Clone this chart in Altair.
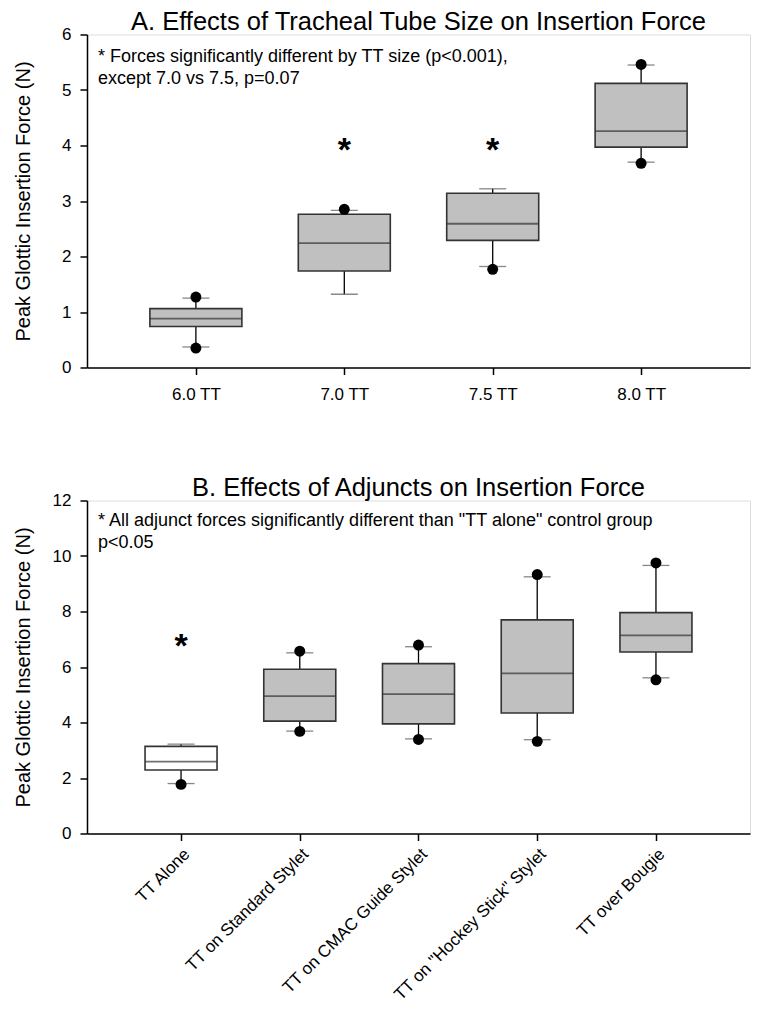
import json
import altair as alt
import pandas as pd

FONT = "Liberation Sans"

# ---------------- Panel A data ----------------
a_cats = ["6.0 TT", "7.0 TT", "7.5 TT", "8.0 TT"]
a_whisk_lo = [0.37, 1.32, 1.82, 3.70]
a_q1 = [0.74, 1.74, 2.29, 3.97]
a_med = [0.88, 2.24, 2.59, 4.26]
a_q3 = [1.06, 2.76, 3.14, 5.12]
a_whisk_hi = [1.25, 2.83, 3.22, 5.45]
a_out_lo = [0.35, None, 1.77, 3.68]
a_out_hi = [1.27, 2.85, None, 5.46]
a_star = [None, 3.98, 3.98, None]
a_note = ["* Forces significantly different by TT size (p<0.001),",
          "except 7.0 vs 7.5, p=0.07"]

# ---------------- Panel B data ----------------
b_cats = ["TT Alone", "TT on Standard Stylet", "TT on CMAC Guide Stylet",
          'TT on "Hockey Stick" Stylet', "TT over Bougie"]
b_whisk_lo = [1.80, 3.69, 3.41, 3.38, 5.61]
b_q1 = [2.29, 4.05, 3.95, 4.34, 6.54]
b_med = [2.59, 4.95, 5.02, 5.77, 7.14]
b_q3 = [3.14, 5.92, 6.12, 7.70, 7.96]
b_whisk_hi = [3.22, 6.51, 6.73, 9.25, 9.66]
b_out_lo = [1.77, 3.68, 3.39, 3.32, 5.54]
b_out_hi = [None, 6.57, 6.79, 9.33, 9.75]
b_star = [6.86, None, None, None, None]
b_note = ['* All adjunct forces significantly different than "TT alone" control group',
          "p<0.05"]

Y_TITLE = "Peak Glottic Insertion Force (N)"
PLOT_W = 663
PLOT_H = 333


def table(cats, lo, q1, med, q3, hi, olo, ohi, star):
    return pd.DataFrame({
        "pos": list(range(1, len(cats) + 1)),
        "cat": cats, "lo": lo, "q1": q1, "med": med, "q3": q3, "hi": hi,
        "olo": olo, "ohi": ohi, "star": star,
    })


def panel(df, cats, title, ymax, ystep, xdomain, box_w, note, note_y,
          label_angle, label_pad):
    label_expr = json.dumps(cats) + "[datum.value - 1]"
    xs = alt.Scale(domain=xdomain, nice=False, zero=False)
    ys = alt.Scale(domain=[0, ymax], nice=False)
    xaxis = alt.Axis(values=list(range(1, len(cats) + 1)), labelExpr=label_expr,
                     tickSize=7, tickColor="black", domainColor="black",
                     domainWidth=1.5, tickWidth=1.5,
                     labelFont=FONT, labelFontSize=17, labelColor="black",
                     labelAngle=label_angle, labelPadding=label_pad,
                     labelLimit=0, grid=False, labelOverlap=False)
    yaxis = alt.Axis(values=list(range(0, ymax + 1, ystep)), format="d",
                     tickSize=7, tickColor="black", domainColor="black",
                     domainWidth=1.5, tickWidth=1.5, labelFont=FONT,
                     labelFontSize=17, labelColor="black", labelPadding=9,
                     grid=False, titleFont=FONT, titleFontSize=20,
                     titleFontWeight="normal", titleColor="black", titleX=-54)
    x = alt.X("pos:Q", scale=xs, axis=xaxis, title=None)
    base = alt.Chart(df)

    whisk = base.mark_rule(color="black", strokeWidth=1.3).encode(
        x=x, y=alt.Y("lo:Q", scale=ys, axis=yaxis, title=Y_TITLE), y2="hi:Q")
    caps_lo = base.mark_tick(color="#555555", size=27, thickness=1.3,
                             orient="horizontal").encode(x=x, y=alt.Y("lo:Q", scale=ys))
    caps_hi = base.mark_tick(color="#555555", size=27, thickness=1.3,
                             orient="horizontal").encode(x=x, y=alt.Y("hi:Q", scale=ys))
    box = base.mark_bar(size=box_w, stroke="#333333", strokeWidth=1.6).encode(
        x=x, y=alt.Y("q1:Q", scale=ys), y2="q3:Q",
        fill=alt.condition(alt.datum.cat == "TT Alone", alt.value("white"),
                           alt.value("#c0c0c0")))
    med = base.mark_tick(color="#333333", size=box_w, thickness=1.8,
                         orient="horizontal").encode(x=x, y=alt.Y("med:Q", scale=ys))
    dots_lo = base.transform_filter("isValid(datum.olo)").mark_circle(
        size=120, color="black", opacity=1).encode(x=x, y=alt.Y("olo:Q", scale=ys))
    dots_hi = base.transform_filter("isValid(datum.ohi)").mark_circle(
        size=120, color="black", opacity=1).encode(x=x, y=alt.Y("ohi:Q", scale=ys))
    stars = base.transform_filter("isValid(datum.star)").mark_text(
        text="*", font=FONT, fontSize=34, fontWeight="bold", color="black",
        baseline="middle", dy=4).encode(x=x, y=alt.Y("star:Q", scale=ys))
    txt = alt.Chart(pd.DataFrame({"note": [note]})).mark_text(
        align="left", baseline="alphabetic", font=FONT, fontSize=18,
        color="black", lineHeight=22).encode(
        x=alt.value(11), y=alt.value(note_y), text="note:N")

    return alt.layer(whisk, caps_lo, caps_hi, box, med, dots_lo, dots_hi,
                     stars, txt).properties(
        width=PLOT_W, height=PLOT_H,
        title=alt.TitleParams(title, font=FONT, fontSize=25.5, fontWeight="normal",
                              color="black", anchor="middle", frame="group",
                              offset=-10))


df_a = table(a_cats, a_whisk_lo, a_q1, a_med, a_q3, a_whisk_hi, a_out_lo,
             a_out_hi, a_star)
df_b = table(b_cats, b_whisk_lo, b_q1, b_med, b_q3, b_whisk_hi, b_out_lo,
             b_out_hi, b_star)

chart_a = panel(df_a, a_cats, "A. Effects of Tracheal Tube Size on Insertion Force",
                6, 1, [0.3, 4.7], 92, a_note, 27, 0, 12)
chart_b = panel(df_b, b_cats, "B. Effects of Adjuncts on Insertion Force",
                12, 2, [0.25, 5.75], 72, b_note, 25, -45, 5)

chart = alt.vconcat(chart_a, chart_b, spacing=72).properties(
    padding={"left": 4, "top": 1.5, "right": 0, "bottom": 0}
).configure_view(stroke="black", strokeWidth=1.5).configure(background="white")

chart.save("out.html", embed_options={"renderer": "svg", "actions": False})
